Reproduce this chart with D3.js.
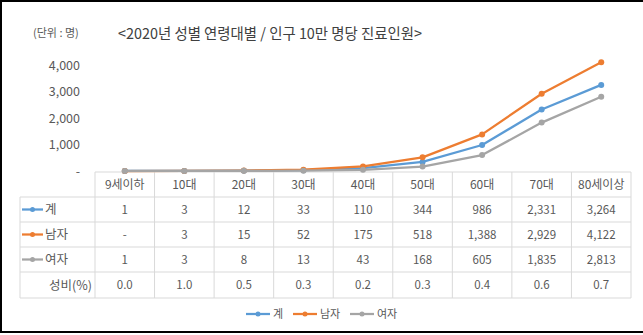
<!DOCTYPE html>
<html><head><meta charset="utf-8">
<script src="https://cdn.jsdelivr.net/npm/d3@7"></script>
<style>
html,body{margin:0;padding:0;background:#fff;}
svg{display:block;font-family:"Noto Sans CJK KR","Noto Sans",sans-serif;}
</style></head>
<body>
<script>
const categories = ["9세이하","10대","20대","30대","40대","50대","60대","70대","80세이상"];
const total  = [1,3,12,33,110,344,986,2331,3264];
const male   = [0,3,15,52,175,518,1388,2929,4122];
const female = [1,3,8,13,43,168,605,1835,2813];
const ratio  = [0.0,1.0,0.5,0.3,0.2,0.3,0.4,0.6,0.7];
const yTicks = [0,1000,2000,3000,4000];
const seriesNames = ["계","남자","여자"];
const colors = ["#5B9BD5","#ED7D31","#A5A5A5"];
const title = "<2020년 성별 연령대별 / 인구 10만 명당 진료인원>";
const unit = "(단위 : 명)";

const W = 643, H = 335;
const svg = d3.select("body").append("svg").attr("width", W).attr("height", H);
svg.append("rect").attr("width", W).attr("height", H).attr("fill", "#fff");

// outer border (top, left, bottom)
svg.append("path").attr("d", `M${W},1 L1,1 L1,332 L${W},332`)
  .attr("fill","none").attr("stroke","#000").attr("stroke-width",2);

// titles
svg.append("text").attr("x", 33).attr("y", 37).attr("font-size", 11).attr("fill", "#595959").text(unit);
svg.append("text").attr("x", 118).attr("y", 39).attr("font-size", 15).attr("fill", "#404040")
  .attr("textLength", 304).attr("lengthAdjust","spacingAndGlyphs").text(title);

const tableLeft = 95, tableRight = 631, labelLeft = 20;
const x = d3.scaleBand().domain(categories).range([tableLeft, tableRight]).padding(0);
const y = d3.scaleLinear().domain([0, 4000]).range([171, 65.5]);
const cx = d => x(d) + x.bandwidth() / 2;

// y axis
const yAxis = d3.axisLeft(y).tickValues(yTicks).tickSize(0).tickPadding(0)
  .tickFormat(v => v === 0 ? "-" : d3.format(",")(v));
const ga = svg.append("g").attr("transform", "translate(80,0)").call(yAxis);
ga.select(".domain").remove();
ga.selectAll("text").attr("font-size", 12.5).attr("fill", "#595959")
  .attr("font-family", '"Noto Sans CJK KR","Noto Sans",sans-serif');

// table
const rowTop = [172, 197, 222, 247, 272, 298];
const grid = "#D9D9D9";
const tg = svg.append("g");
// horizontal lines
tg.append("line").attr("x1", tableLeft).attr("x2", tableRight).attr("y1", rowTop[0]).attr("y2", rowTop[0]).attr("stroke", grid);
for (let i = 1; i < rowTop.length; i++) {
  tg.append("line").attr("x1", labelLeft).attr("x2", tableRight).attr("y1", rowTop[i]).attr("y2", rowTop[i]).attr("stroke", grid);
}
// vertical lines
const xs = categories.map(c => x(c)).concat([tableRight]);
xs.forEach(v => tg.append("line").attr("x1", v).attr("x2", v).attr("y1", rowTop[0]).attr("y2", rowTop[5]).attr("stroke", grid));
tg.append("line").attr("x1", labelLeft).attr("x2", labelLeft).attr("y1", rowTop[1]).attr("y2", rowTop[5]).attr("stroke", grid);

const fmt = v => v === 0 ? "-" : d3.format(",")(v);
const rowsData = [categories, total.map(fmt), male.map(fmt), female.map(fmt), ratio.map(v => v.toFixed(1))];
rowsData.forEach((row, r) => {
  const cyr = (rowTop[r] + rowTop[r + 1]) / 2 + 4;
  tg.selectAll(null).data(row).enter().append("text")
    .attr("x", (d, i) => cx(categories[i])).attr("y", cyr)
    .attr("text-anchor", "middle").attr("font-size", r === 0 ? 12 : 11.5).attr("fill", "#595959")
    .text(d => d);
});
// row labels with legend keys
seriesNames.forEach((n, i) => {
  const cyr = (rowTop[i + 1] + rowTop[i + 2]) / 2;
  tg.append("line").attr("x1", 22).attr("x2", 43).attr("y1", cyr).attr("y2", cyr).attr("stroke", colors[i]).attr("stroke-width", 2.25);
  tg.append("circle").attr("cx", 32.5).attr("cy", cyr).attr("r", 2.5).attr("fill", colors[i]);
  tg.append("text").attr("x", 45).attr("y", cyr + 4.5).attr("font-size", 12.5).attr("fill", "#595959").text(n);
});
tg.append("text").attr("x", 92).attr("y", (rowTop[4] + rowTop[5]) / 2 + 4.5).attr("text-anchor", "end")
  .attr("font-size", 12.5).attr("fill", "#595959").text("성비(%)");

// lines (draw in order: 여자, 계, 남자 on top like Excel: series order)
const series = [total, male, female];
const line = d3.line().x((d, i) => cx(categories[i])).y(d => y(d));
series.forEach((s, k) => {
  const g = svg.append("g");
  g.append("path").datum(s).attr("d", line).attr("fill", "none").attr("stroke", colors[k]).attr("stroke-width", 2.25).attr("stroke-linejoin","round");
  g.selectAll("circle").data(s).enter().append("circle")
    .attr("cx", (d, i) => cx(categories[i])).attr("cy", d => y(d)).attr("r", 3).attr("fill", colors[k]);
});

// legend
const legX = [246, 293, 350];
const legY = 314;
seriesNames.forEach((n, i) => {
  svg.append("line").attr("x1", legX[i]).attr("x2", legX[i] + 24).attr("y1", legY).attr("y2", legY).attr("stroke", colors[i]).attr("stroke-width", 2.25);
  svg.append("circle").attr("cx", legX[i] + 12).attr("cy", legY).attr("r", 2.5).attr("fill", colors[i]);
  svg.append("text").attr("x", legX[i] + 27).attr("y", legY + 4).attr("font-size", 11).attr("fill", "#595959").text(n);
});
</script>
</body></html>
